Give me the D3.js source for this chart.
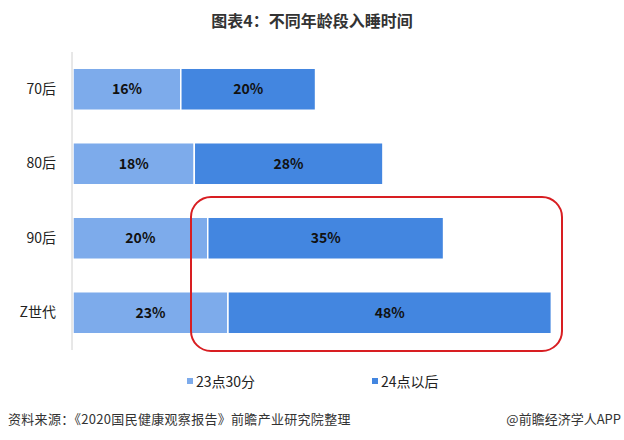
<!DOCTYPE html>
<html><head><meta charset="utf-8">
<script src="https://cdn.jsdelivr.net/npm/d3@7"></script>
<style>
html,body{margin:0;padding:0;background:#fff;}
svg{display:block;font-family:"Noto Sans CJK SC","Noto Sans",sans-serif;}
</style></head>
<body>
<svg id="c" width="624" height="440"></svg>
<script>
const categories = ["70后","80后","90后","Z世代"];
const seriesNames = ["23点30分","24点以后"];
const s2330 = [16,18,20,23];
const s24 = [20,28,35,48];
const colors = ["#7dabeb","#4386e0"];

const svg = d3.select("#c");
const x = d3.scaleLinear().domain([0,80]).range([73,612]);
const y = d3.scaleBand().domain(categories).range([52,350]).paddingInner(0.436).paddingOuter(0.218);

svg.append("text").attr("x",312).attr("y",27).attr("text-anchor","middle")
  .attr("font-size",16).attr("font-weight","bold").attr("fill","#333")
  .text("图表4：不同年龄段入睡时间");

const stackData = categories.map((c,i)=>({cat:c,a:s2330[i],b:s24[i]}));
const stack = d3.stack().keys(["a","b"])(stackData);

stack.forEach((layer,li)=>{
  const g = svg.append("g");
  g.selectAll("rect").data(layer).enter().append("rect")
    .attr("x",d=>x(d[0]))
    .attr("y",d=>y(d.data.cat))
    .attr("width",d=>x(d[1])-x(d[0]))
    .attr("height",y.bandwidth())
    .attr("fill",colors[li])
    .attr("stroke","#fff").attr("stroke-width",1.5);
  g.selectAll("text").data(layer).enter().append("text")
    .attr("x",d=>(x(d[0])+x(d[1]))/2)
    .attr("y",d=>y(d.data.cat)+y.bandwidth()/2+5)
    .attr("text-anchor","middle").attr("font-size",14).attr("font-weight","bold")
    .attr("fill","#111")
    .text(d=>(d[1]-d[0])+"%");
});

// axis
const yAxis = d3.axisLeft(y).tickSize(0).tickPadding(16);
const ag = svg.append("g").attr("transform","translate(72,0)").call(yAxis);
ag.select(".domain").attr("stroke","#d0d0d0").attr("d","M0,52V350");
ag.selectAll("text").attr("font-size",14).attr("fill","#222")
  .attr("font-family",'"Noto Sans CJK SC",sans-serif');

// highlight box
svg.append("rect").attr("x",191).attr("y",197).attr("width",371).attr("height",154)
  .attr("rx",20).attr("ry",20).attr("fill","none").attr("stroke","#d81e22").attr("stroke-width",2);

// legend
const legX = [187,372];
seriesNames.forEach((n,i)=>{
  svg.append("rect").attr("x",legX[i]).attr("y",378).attr("width",6).attr("height",6).attr("fill",colors[i]);
  svg.append("text").attr("x",legX[i]+9).attr("y",387).attr("font-size",14).attr("fill","#222").text(n);
});

// footer
svg.append("text").attr("x",8).attr("y",424).attr("font-size",13).attr("letter-spacing",0.3).attr("fill","#333")
  .text("资料来源：《2020国民健康观察报告》前瞻产业研究院整理");
svg.append("text").attr("x",621).attr("y",424).attr("text-anchor","end").attr("font-size",13).attr("fill","#333")
  .text("@前瞻经济学人APP");
</script>
</body></html>
